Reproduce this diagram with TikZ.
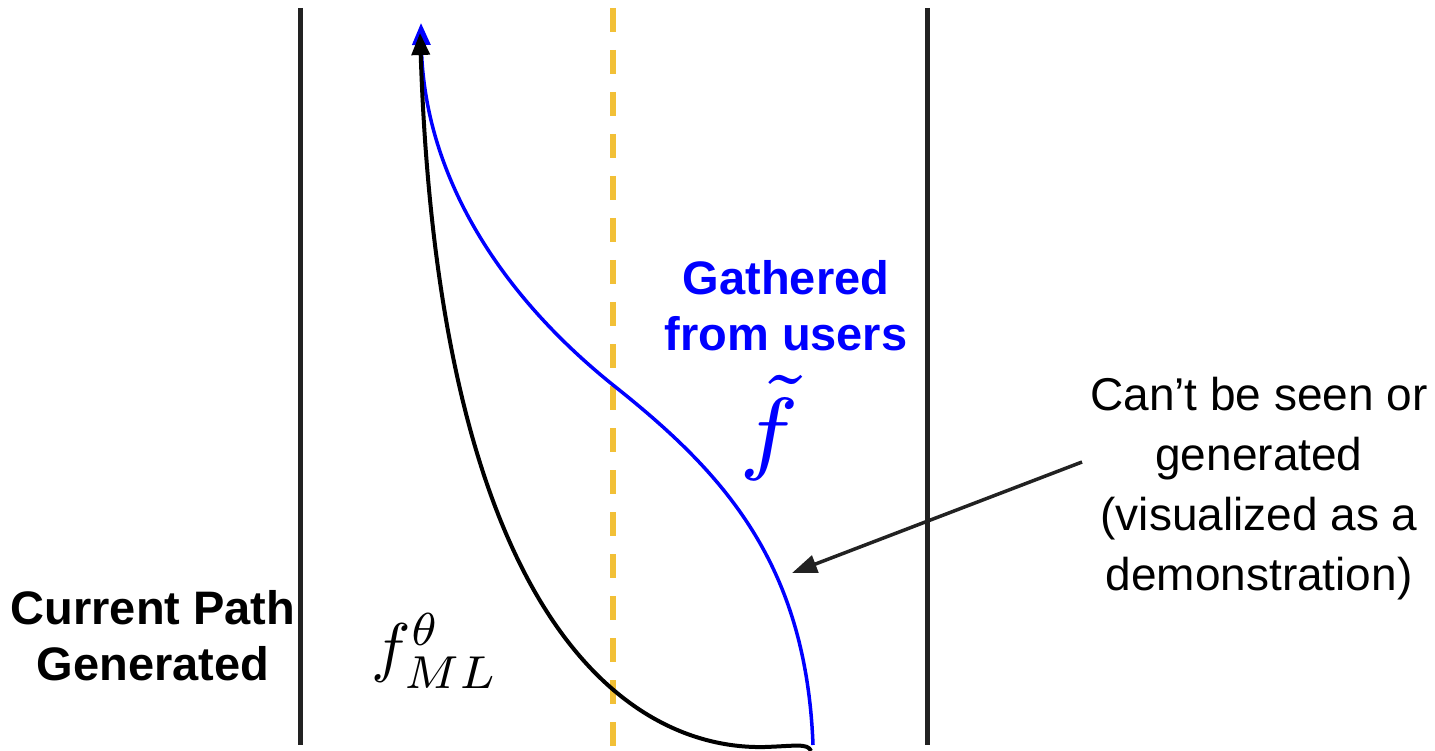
\documentclass[tikz,border=0pt]{standalone}
\usepackage{fontspec}
\setmainfont{Liberation Sans}
\usepackage{amsmath}
\usetikzlibrary{arrows.meta,positioning}
\definecolor{railgray}{RGB}{34,34,34}
\definecolor{pathgold}{RGB}{242,192,55}

\begin{document}
\begin{tikzpicture}[x=1pt,y=-1pt,
  rail/.style={railgray,line width=5pt},
  bigtext/.style={font=\fontsize{46}{60}\selectfont,align=center,inner sep=0pt},
  boldtext/.style={font=\fontsize{47}{56}\selectfont\bfseries,align=center,inner sep=0pt}]
\useasboundingbox (0,0) rectangle (1435,751);
% the two walls of the path and the dashed middle
\draw[rail] (300,8) -- (300,745);
\draw[rail] (927,8) -- (927,745);
\draw[pathgold,line width=6pt,dash pattern=on 24pt off 18pt] (613,8) -- (613,751);
% gathered path (blue) and generated path (black)
\draw[blue,line width=3.5pt,-{Triangle[length=22pt,width=18pt]}]
  (813,745) .. controls (806,560) and (720,470) .. (613,385)
  .. controls (485,282) and (423,160) .. (421,23);
\draw[black,line width=4pt,-{Triangle[length=22pt,width=18pt]}]
  (811,751) .. controls (808,743) and (795,746) .. (765,747)
  .. controls (640,750) and (440,640) .. (420,33);
\coordinate (hit) at (792,573);
% labels
\node[boldtext] (current) at (153,636) {Current Path\\Generated};
\node[boldtext,blue] (gathered) at (786,306) {Gathered\\from users};
\node[blue,inner sep=0pt] (ftilde) at (769,428) {\scalebox{13.2}{$\scriptstyle\tilde{f}$}};
\node[inner sep=0pt] (fml) at (435,651) {\scalebox{6.6}{$f^{\theta}_{ML}$}};
\node[bigtext] (unseen) at (1259,489) {Can’t be seen or\\generated\\(visualized as a\\demonstration)};
\draw[railgray,line width=3.5pt,-{Triangle[length=25pt,width=18pt]}] ([shift={(-8pt,27pt)}]unseen.west) -- (hit);
\end{tikzpicture}
\end{document}
